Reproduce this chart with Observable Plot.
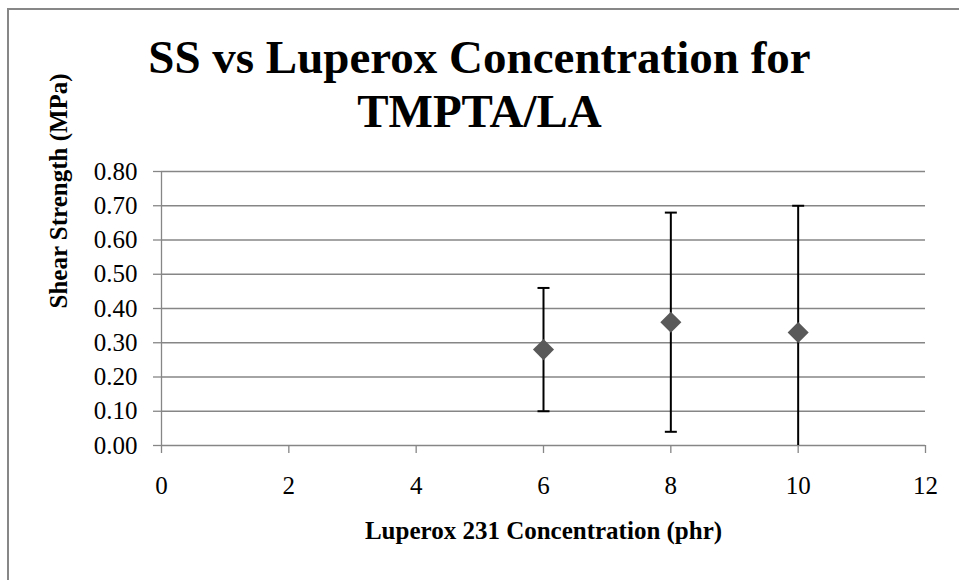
<!DOCTYPE html>
<html>
<head>
<meta charset="utf-8">
<script src="https://cdn.jsdelivr.net/npm/d3@7"></script>
<script src="https://cdn.jsdelivr.net/npm/@observablehq/plot@0.6"></script>
<style>
  html, body { margin: 0; padding: 0; background: #fff; overflow: hidden; }
  #wrap { position: relative; width: 959px; height: 580px; overflow: hidden; }
  #frame { position: absolute; left: 7px; top: 8px; width: 1200px; height: 1200px;
           border-left: 2px solid #878787; border-top: 2px solid #878787; box-sizing: border-box; }
  #title { position: relative; height: 150px; box-sizing: border-box; padding-top: 30px;
           font-family: "Liberation Serif", "Times New Roman", serif; font-weight: bold;
           font-size: 47px; line-height: 54px; text-align: center; color: #000; }
  #chart { position: relative; }
</style>
</head>
<body>
<div id="wrap">
  <div id="frame"></div>
  <div id="title">SS vs Luperox Concentration for<br>TMPTA/LA</div>
  <div id="chart"></div>
</div>
<script>
// Data
const concentration = [6, 8, 10];
const shearStrength = [0.28, 0.36, 0.33];
const errLow = [0.10, 0.04, -0.04];
const errHigh = [0.46, 0.68, 0.70];
const xTicks = [0, 2, 4, 6, 8, 10, 12];
const yTicks = [0, 0.1, 0.2, 0.3, 0.4, 0.5, 0.6, 0.7, 0.8];
const xTitle = ["Luperox 231 Concentration (phr)"];
const yTitle = ["Shear Strength (MPa)"];

const data = concentration.map((x, i) => ({x, y: shearStrength[i], lo: errLow[i], hi: errHigh[i]}));
const caps = data.flatMap(d => [{x: d.x, y: d.lo}, {x: d.x, y: d.hi}]);

const capSymbol = {
  draw(context, size) {
    const w = Math.sqrt(size / Math.PI);
    context.moveTo(-w, 0);
    context.lineTo(w, 0);
  }
};

const grid = "#868686";
const font = "Liberation Serif, Times New Roman, serif";

const chart = Plot.plot({
  width: 959,
  height: 430,
  marginLeft: 161,
  marginRight: 34,
  marginTop: 21,
  marginBottom: 135,
  style: {fontFamily: font, fontSize: "25px", color: "#000", background: "transparent", overflow: "visible"},
  x: {domain: [0, 12], axis: null},
  y: {domain: [0, 0.8], axis: null},
  marks: [
    Plot.gridY(yTicks, {stroke: grid, strokeOpacity: 1, strokeWidth: 1.3}),
    Plot.ruleX([0], {stroke: grid, strokeWidth: 1.3}),
    Plot.axisY(yTicks, {tickSize: 8, tickPadding: 16, tickFormat: d3.format(".2f"), stroke: grid, strokeWidth: 1.3, fill: "#000", fontSize: 25, label: null}),
    Plot.axisX(xTicks, {tickSize: 8, tickPadding: 23, tickFormat: d => String(d), stroke: grid, strokeWidth: 1.3, fill: "#000", fontSize: 25, label: null}),
    Plot.ruleX(data, {x: "x", y1: "lo", y2: "hi", stroke: "#000", strokeWidth: 2, clip: true}),
    Plot.dot(caps, {x: "x", y: "y", symbol: capSymbol, r: 6, stroke: "#000", strokeWidth: 2, fill: "none", clip: true}),
    Plot.dot(data, {x: "x", y: "y", symbol: "diamond2", r: 9.5, fill: "#595959", stroke: "none"}),
    Plot.text(xTitle, {text: d => d, frameAnchor: "bottom", dy: 93, fontWeight: "bold", fontSize: 25, fill: "#000"}),
    Plot.text(yTitle, {text: d => d, frameAnchor: "left", dx: -103, rotate: -90, fontWeight: "bold", fontSize: 25, fill: "#000"})
  ]
});
document.getElementById("chart").appendChild(chart);
</script>
</body>
</html>
